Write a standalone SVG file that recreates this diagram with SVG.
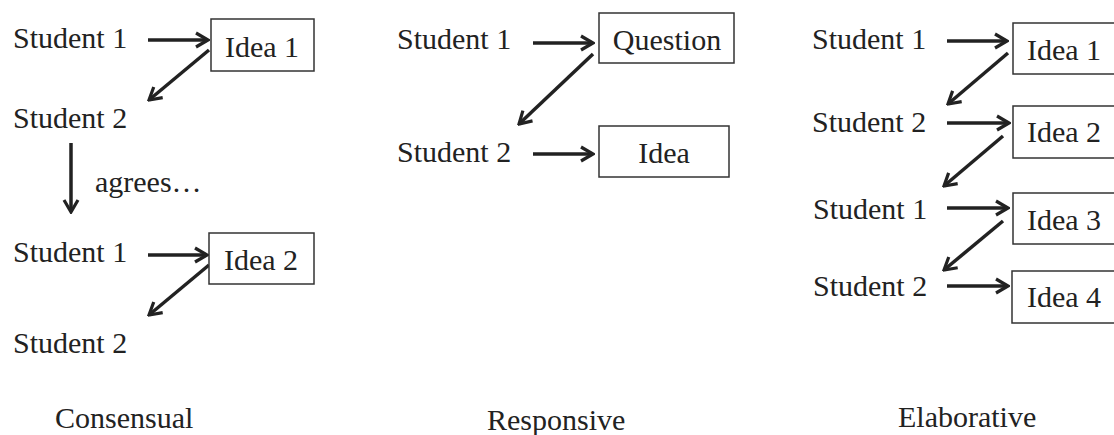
<svg xmlns="http://www.w3.org/2000/svg" width="1114" height="435" viewBox="0 0 1114 435">
<defs>
<marker id="ah" viewBox="0 0 16 18" refX="14" refY="9" markerWidth="16" markerHeight="18" markerUnits="userSpaceOnUse" orient="auto">
<path d="M2,2 L14,9 L2,16" fill="none" stroke="#222" stroke-width="3.2" stroke-linejoin="miter"/>
</marker>
</defs>
<style>
text{font-family:'Liberation Serif',serif;font-size:30px;fill:#222}
.c{text-anchor:middle}
.box{fill:#fff;stroke:#333;stroke-width:1.5}
.ar{stroke:#222;stroke-width:3.5;fill:none;marker-end:url(#ah)}
</style>
<rect width="1114" height="435" fill="#fff"/>
<g id="connectors">
<line class="ar" x1="148" y1="40" x2="208" y2="40"/>
<line class="ar" x1="209" y1="50" x2="149" y2="100"/>
<line class="ar" x1="71" y1="143" x2="71" y2="212"/>
<line class="ar" x1="148" y1="255" x2="207" y2="255"/>
<line class="ar" x1="209" y1="265" x2="149" y2="315"/>
<line class="ar" x1="533" y1="43" x2="593" y2="43"/>
<line class="ar" x1="593" y1="54" x2="519" y2="124"/>
<line class="ar" x1="533" y1="154" x2="593" y2="154"/>
<line class="ar" x1="947" y1="41" x2="1007" y2="41"/>
<line class="ar" x1="1008" y1="53" x2="948" y2="104"/>
<line class="ar" x1="947" y1="123" x2="1009" y2="123"/>
<line class="ar" x1="1003" y1="136" x2="944" y2="186"/>
<line class="ar" x1="947" y1="208" x2="1008" y2="208"/>
<line class="ar" x1="1003" y1="221" x2="944" y2="270"/>
<line class="ar" x1="947" y1="286" x2="1008" y2="286"/>
</g>
<g id="c-s1a"><text x="13" y="48">Student 1</text></g>
<g id="c-idea1"><rect class="box" x="211" y="19" width="103" height="52"/><text class="c" x="262" y="57">Idea 1</text></g>
<g id="c-s2a"><text x="13" y="128">Student 2</text></g>
<g id="c-agrees"><text x="95" y="192">agrees…</text></g>
<g id="c-s1b"><text x="13" y="262">Student 1</text></g>
<g id="c-idea2"><rect class="box" x="209" y="233" width="105" height="51"/><text class="c" x="261" y="270">Idea 2</text></g>
<g id="c-s2b"><text x="13" y="353">Student 2</text></g>
<g id="c-label"><text x="55" y="428">Consensual</text></g>

<g id="r-s1"><text x="397" y="49">Student 1</text></g>
<g id="r-question"><rect class="box" x="599" y="13" width="135" height="50"/><text class="c" x="667" y="50">Question</text></g>
<g id="r-s2"><text x="397" y="162">Student 2</text></g>
<g id="r-idea"><rect class="box" x="599" y="126" width="130" height="51"/><text class="c" x="664" y="163">Idea</text></g>
<g id="r-label"><text x="487" y="430">Responsive</text></g>

<g id="e-s1a"><text x="812" y="49">Student 1</text></g>
<g id="e-idea1"><rect class="box" x="1013" y="23" width="110" height="51"/><text x="1027" y="60">Idea 1</text></g>
<g id="e-s2a"><text x="812" y="132">Student 2</text></g>
<g id="e-idea2"><rect class="box" x="1013" y="106" width="110" height="52"/><text x="1027" y="142">Idea 2</text></g>
<g id="e-s1b"><text x="813" y="219">Student 1</text></g>
<g id="e-idea3"><rect class="box" x="1013" y="193" width="110" height="51"/><text x="1027" y="230">Idea 3</text></g>
<g id="e-s2b"><text x="813" y="296">Student 2</text></g>
<g id="e-idea4"><rect class="box" x="1012" y="271" width="110" height="52"/><text x="1027" y="307">Idea 4</text></g>
<g id="e-label"><text x="898" y="427">Elaborative</text></g>
</svg>
